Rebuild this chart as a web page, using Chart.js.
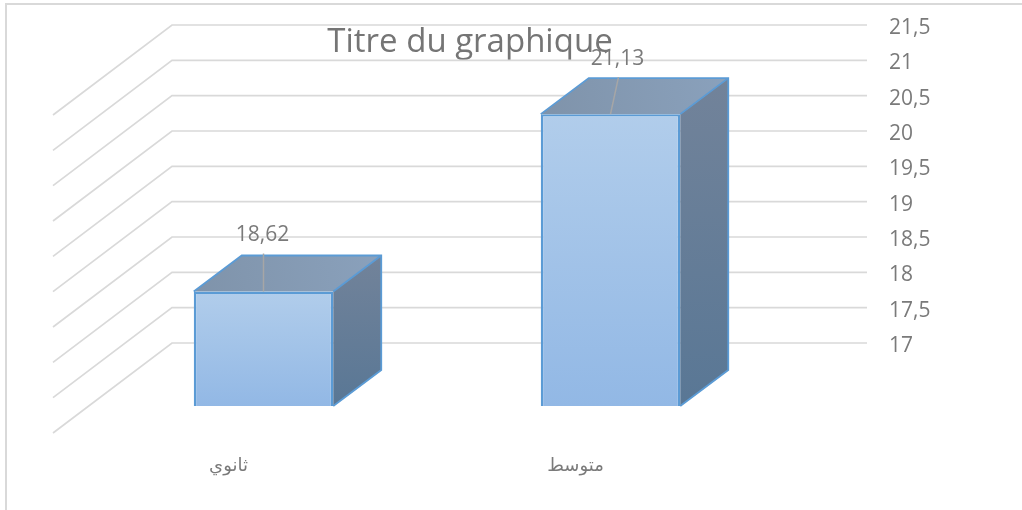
<!DOCTYPE html>
<html>
<head>
<meta charset="utf-8">
<script src="https://cdn.jsdelivr.net/npm/chart.js@4"></script>
<style>
html,body{margin:0;padding:0;background:#fff;overflow:hidden}
#wrap{position:relative;width:1022px;height:510px}
#frame{position:absolute;left:5px;top:3px;right:0;bottom:0;border-left:2px solid #d9d9d9;border-top:2px solid #d9d9d9}
canvas{position:absolute;left:0;top:0}
</style>
</head>
<body>
<div id="wrap"><div id="frame"></div><canvas id="c" width="1022" height="510"></canvas></div>
<script>
const categories = ["ثانوي", "متوسط"];
const seriesValues = [18.62, 21.13];
const tickValues = [17, 17.5, 18, 18.5, 19, 19.5, 20, 20.5, 21, 21.5];
const chartTitle = "Titre du graphique";

const FONT = '"Open Sans", "DejaVu Sans", sans-serif';
const TXT = '#7a7a7a';
const DEPTH = {x: 48, y: 36};
const WALL = {left: 172, right: 867, sideX: 53, sideDrop: 90};
const labelOffsets = [{dx: 0, lineTop: -38, text: -57}, {dx: 8, lineTop: -37, text: -55}];
const fmt = v => String(v).replace('.', ',');

const threeD = {
  id: 'threeD',
  afterLayout(chart) {
    if (chart.titleBlock) { chart.titleBlock.left = 0; chart.titleBlock.right = 940; }
  },
  beforeDatasetsDraw(chart) {
    const c = chart.ctx, wall = chart.scales.y;
    c.save();
    c.strokeStyle = '#d9d9d9'; c.lineWidth = 1.7; c.lineJoin = 'miter';
    tickValues.forEach(v => {
      const y = wall.getPixelForValue(v);
      c.beginPath();
      c.moveTo(WALL.sideX, y + WALL.sideDrop);
      c.lineTo(WALL.left, y);
      c.lineTo(WALL.right, y);
      c.stroke();
    });
    const base = chart.scales.yBar.getPixelForValue(chart.scales.yBar.min);
    chart.getDatasetMeta(0).data.forEach(bar => {
      const l = bar.x - bar.width / 2, r = bar.x + bar.width / 2, t = bar.y, b = base;
      const d = DEPTH;
      // top face
      let g = c.createLinearGradient(l, t, r + d.x, t - d.y);
      g.addColorStop(0, '#7f93aa'); g.addColorStop(1, '#8aa1bc');
      c.fillStyle = g;
      c.beginPath();
      c.moveTo(l, t); c.lineTo(l + d.x, t - d.y); c.lineTo(r + d.x, t - d.y); c.lineTo(r, t); c.closePath();
      c.fill();
      // side face
      g = c.createLinearGradient(0, t - d.y, 0, b);
      g.addColorStop(0, '#72839a'); g.addColorStop(1, '#597795');
      c.fillStyle = g;
      c.beginPath();
      c.moveTo(r, t); c.lineTo(r + d.x, t - d.y); c.lineTo(r + d.x, b - d.y); c.lineTo(r, b); c.closePath();
      c.fill();
      // edges
      c.strokeStyle = '#5b9bd5'; c.lineWidth = 1.8;
      c.beginPath();
      c.moveTo(l, t); c.lineTo(l + d.x, t - d.y); c.lineTo(r + d.x, t - d.y); c.lineTo(r + d.x, b - d.y); c.lineTo(r, b);
      c.moveTo(r, t); c.lineTo(r + d.x, t - d.y);
      c.stroke();
    });
    c.restore();
  },
  afterDatasetsDraw(chart) {
    const c = chart.ctx;
    c.save();
    chart.getDatasetMeta(0).data.forEach((bar, i) => {
      const o = labelOffsets[i];
      c.strokeStyle = '#a6a6a6'; c.lineWidth = 1.5;
      c.beginPath();
      c.moveTo(bar.x, bar.y);
      c.lineTo(bar.x + o.dx, bar.y + o.lineTop);
      c.stroke();
      c.fillStyle = TXT;
      c.font = '21px ' + FONT;
      c.textAlign = 'center'; c.textBaseline = 'middle';
      c.fillText(fmt(seriesValues[i]), bar.x + o.dx - 1, bar.y + o.text);
    });
    c.restore();
  }
};

const noPad = s => { s.paddingTop = s.paddingBottom = s.paddingLeft = s.paddingRight = 0; };

new Chart(document.getElementById('c'), {
  type: 'bar',
  data: {
    labels: categories,
    datasets: [{
      data: seriesValues,
      yAxisID: 'yBar',
      barPercentage: 0.402,
      categoryPercentage: 1,
      borderColor: '#5b9bd5',
      borderWidth: 2.4,
      borderSkipped: false,
      backgroundColor(ctx) {
        const a = ctx.chart.chartArea;
        if (!a || ctx.raw === undefined) return '#a3c3e8';
        const s = ctx.chart.scales.yBar;
        const g = ctx.chart.ctx.createLinearGradient(0, s.getPixelForValue(ctx.raw), 0, s.getPixelForValue(17));
        g.addColorStop(0, '#b1cdeb');
        g.addColorStop(1, '#92b8e5');
        return g;
      }
    }]
  },
  options: {
    responsive: false,
    animation: false,
    layout: {padding: {left: 90, top: 25, right: 0, bottom: 0}},
    plugins: {
      legend: {display: false},
      tooltip: {enabled: false},
      title: {
        display: true,
        text: chartTitle,
        color: '#757575',
        z: 1,
        font: {family: FONT, size: 33, weight: 'normal', lineHeight: 1.2},
        padding: {top: -2, bottom: -37.6}
      }
    },
    scales: {
      x: {
        grid: {display: false, drawTicks: false},
        border: {display: false},
        afterFit(s) { s.height = 104; noPad(s); },
        ticks: {color: TXT, font: {family: FONT, size: 18}, maxRotation: 0, labelOffset: -35, padding: 49}
      },
      y: {
        position: 'right',
        min: 16.1085,
        max: 21.5,
        grid: {display: false, drawTicks: false},
        border: {display: false},
        afterBuildTicks(s) { s.ticks = tickValues.map(v => ({value: v})); },
        afterFit(s) { s.width = 238; noPad(s); },
        ticks: {color: TXT, font: {family: FONT, size: 21}, padding: 105, labelOffset: 3, callback: v => fmt(v)}
      },
      yBar: {
        display: false,
        position: 'left',
        min: 17,
        max: 22.3915
      }
    }
  },
  plugins: [threeD]
});
</script>
</body>
</html>
